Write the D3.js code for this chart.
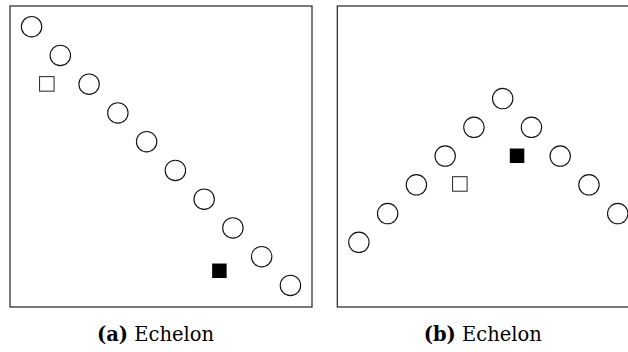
<!DOCTYPE html>
<html>
<head>
<meta charset="utf-8">
<script src="https://cdn.jsdelivr.net/npm/d3@7"></script>
<style>
    body { margin: 0; background: #fff; }
    svg { display: block; }
</style>
</head>
<body>
<div id="chart"></div>
<script>
// panel (a): circles in a falling line
var aCircleX = [0.75, 1.75, 2.75, 3.75, 4.75, 5.75, 6.75, 7.75, 8.75, 9.75];
var aCircleY = [9.75, 8.75, 7.75, 6.75, 5.75, 4.75, 3.75, 2.75, 1.75, 0.75];
var aOpen = [1.28, 7.76];
var aFilled = [7.28, 1.26];

// panel (b): circles in a chevron
var bCircleX = [0.75, 1.75, 2.75, 3.75, 4.75, 5.75, 6.75, 7.75, 8.75, 9.75];
var bCircleY = [2.25, 3.25, 4.25, 5.25, 6.25, 7.25, 6.25, 5.25, 4.25, 3.25];
var bOpen = [4.26, 4.28];
var bFilled = [6.25, 5.26];

var captions = [["(a)", "Echelon"], ["(b)", "Echelon"]];

var panels = [
    { cx: aCircleX, cy: aCircleY, open: aOpen, filled: aFilled, caption: captions[0] },
    { cx: bCircleX, cy: bCircleY, open: bOpen, filled: bFilled, caption: captions[1] }
];

var width = 628, height = 352;
var boxW = 302, boxH = 301;
var boxLefts = [10, 337.3], boxTop = 6;

var svg = d3.select("#chart").append("svg")
    .attr("width", width)
    .attr("height", height);

// same scales for both panels, each shifted to its own box
var x = d3.scaleLinear().domain([0, 10.5]).range([0, boxW]);
var y = d3.scaleLinear().domain([0, 10.47]).range([boxH, 0]);

panels.forEach(function (p, k) {
    var g = svg.append("g")
        .attr("transform", "translate(" + boxLefts[k] + "," + boxTop + ")");

    g.append("rect")
        .attr("width", boxW)
        .attr("height", boxH)
        .attr("fill", "none")
        .attr("stroke", "#222")
        .attr("stroke-width", 1.2);

    g.selectAll("circle")
        .data(d3.range(p.cx.length))
        .enter().append("circle")
        .attr("cx", function (i) { return x(p.cx[i]); })
        .attr("cy", function (i) { return y(p.cy[i]); })
        .attr("r", 10.2)
        .attr("fill", "none")
        .attr("stroke", "#111")
        .attr("stroke-width", 1.1);

    var s = 14.5;
    g.append("rect")
        .attr("x", x(p.open[0]) - s / 2)
        .attr("y", y(p.open[1]) - s / 2)
        .attr("width", s)
        .attr("height", s)
        .attr("fill", "none")
        .attr("stroke", "#222")
        .attr("stroke-width", 1);

    g.append("rect")
        .attr("x", x(p.filled[0]) - s / 2)
        .attr("y", y(p.filled[1]) - s / 2)
        .attr("width", s)
        .attr("height", s)
        .attr("fill", "#000");

    // caption under the box
    var t = svg.append("text")
        .attr("x", boxLefts[k] + boxW / 2 - 5.5)
        .attr("y", 341)
        .attr("text-anchor", "middle")
        .attr("font-family", "'DejaVu Serif', serif")
        .attr("font-size", 19.5)
        .attr("fill", "#000");
    t.append("tspan").attr("font-weight", "bold").text(p.caption[0]);
    t.append("tspan").text("\u00a0" + p.caption[1]);
});
</script>
</body>
</html>
